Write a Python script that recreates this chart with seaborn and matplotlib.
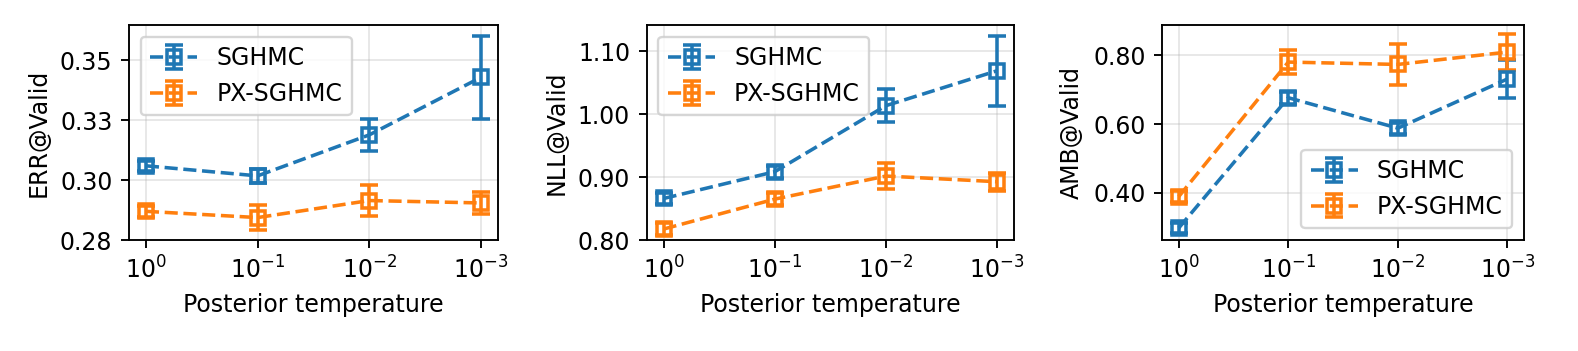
import matplotlib
matplotlib.use("Agg")
import matplotlib.pyplot as plt
from matplotlib.ticker import MultipleLocator, FormatStrFormatter
import seaborn as sns

# posterior temperatures on the x axis
temps = [1, 0.1, 0.01, 0.001]

# ERR@Valid
err_sghmc = [0.306, 0.3018, 0.3189, 0.3429]
err_sghmc_sd = [0.0022, 0.0028, 0.0066, 0.0174]
err_px = [0.287, 0.2844, 0.2915, 0.2905]
err_px_sd = [0.0022, 0.0054, 0.0063, 0.0047]

# NLL@Valid
nll_sghmc = [0.866, 0.9085, 1.0133, 1.0687]
nll_sghmc_sd = [0.009, 0.0095, 0.0266, 0.0558]
nll_px = [0.8175, 0.865, 0.9016, 0.8926]
nll_px_sd = [0.009, 0.0095, 0.0207, 0.0146]

# AMB@Valid
amb_sghmc = [0.2978, 0.6769, 0.5883, 0.7314]
amb_sghmc_sd = [0.0156, 0.0175, 0.0156, 0.0545]
amb_px = [0.3893, 0.7805, 0.7737, 0.8097]
amb_px_sd = [0.016, 0.035, 0.060, 0.0526]

sns.set_style("ticks")
plt.rcParams.update({
    "font.family": ["DejaVu Sans"],
    "font.size": 10,
    "axes.labelsize": 10,
    "xtick.labelsize": 10,
    "ytick.labelsize": 10,
    "legend.fontsize": 10,
    "axes.edgecolor": "black",
    "axes.labelcolor": "black",
    "text.color": "black",
    "xtick.color": "black",
    "ytick.color": "black",
    "axes.linewidth": 0.8,
    "xtick.major.size": 3.5,
    "ytick.major.size": 3.5,
    "xtick.major.width": 0.8,
    "ytick.major.width": 0.8,
})
colors = sns.color_palette("tab10")

panels = [
    ("ERR@Valid", err_sghmc, err_sghmc_sd, err_px, err_px_sd, (0.275, 0.3648), 0.025, "upper left"),
    ("NLL@Valid", nll_sghmc, nll_sghmc_sd, nll_px, nll_px_sd, (0.80, 1.1414), 0.1, "upper left"),
    ("AMB@Valid", amb_sghmc, amb_sghmc_sd, amb_px, amb_px_sd, (0.2628, 0.8886), 0.2, "lower right"),
]
positions = [
    [0.0817, 0.316, 0.2338, 0.613],
    [0.4098, 0.316, 0.2328, 0.613],
    [0.7364, 0.316, 0.2294, 0.613],
]

fig = plt.figure(figsize=(1578 / 170, 351 / 170), dpi=170)
for pos, (ylabel, s, s_sd, p, p_sd, ylim, step, loc) in zip(positions, panels):
    ax = fig.add_axes(pos)
    for vals, sd, c, lab in [(s, s_sd, colors[0], "SGHMC"), (p, p_sd, colors[1], "PX-SGHMC")]:
        ax.errorbar(temps, vals, yerr=sd, color=c, ls="--", lw=1.5, marker="s",
                    ms=6, mfc="none", mew=1.5, capsize=4, capthick=1.5,
                    elinewidth=1.5, label=lab)
    ax.set_xscale("log")
    ax.set_xlim(1.42, 0.000705)
    ax.minorticks_off()
    ax.set_xticks(temps)
    ax.set_ylim(*ylim)
    ax.yaxis.set_major_locator(MultipleLocator(step))
    ax.yaxis.set_major_formatter(FormatStrFormatter("%.2f"))
    ax.grid(True, color="#b0b0b0", lw=0.8, alpha=0.3)
    ax.set_xlabel("Posterior temperature")
    ax.set_ylabel(ylabel)
    ax.legend(loc=loc, frameon=True, framealpha=0.8, edgecolor="#cccccc")

fig.savefig("out.png", dpi=170)
